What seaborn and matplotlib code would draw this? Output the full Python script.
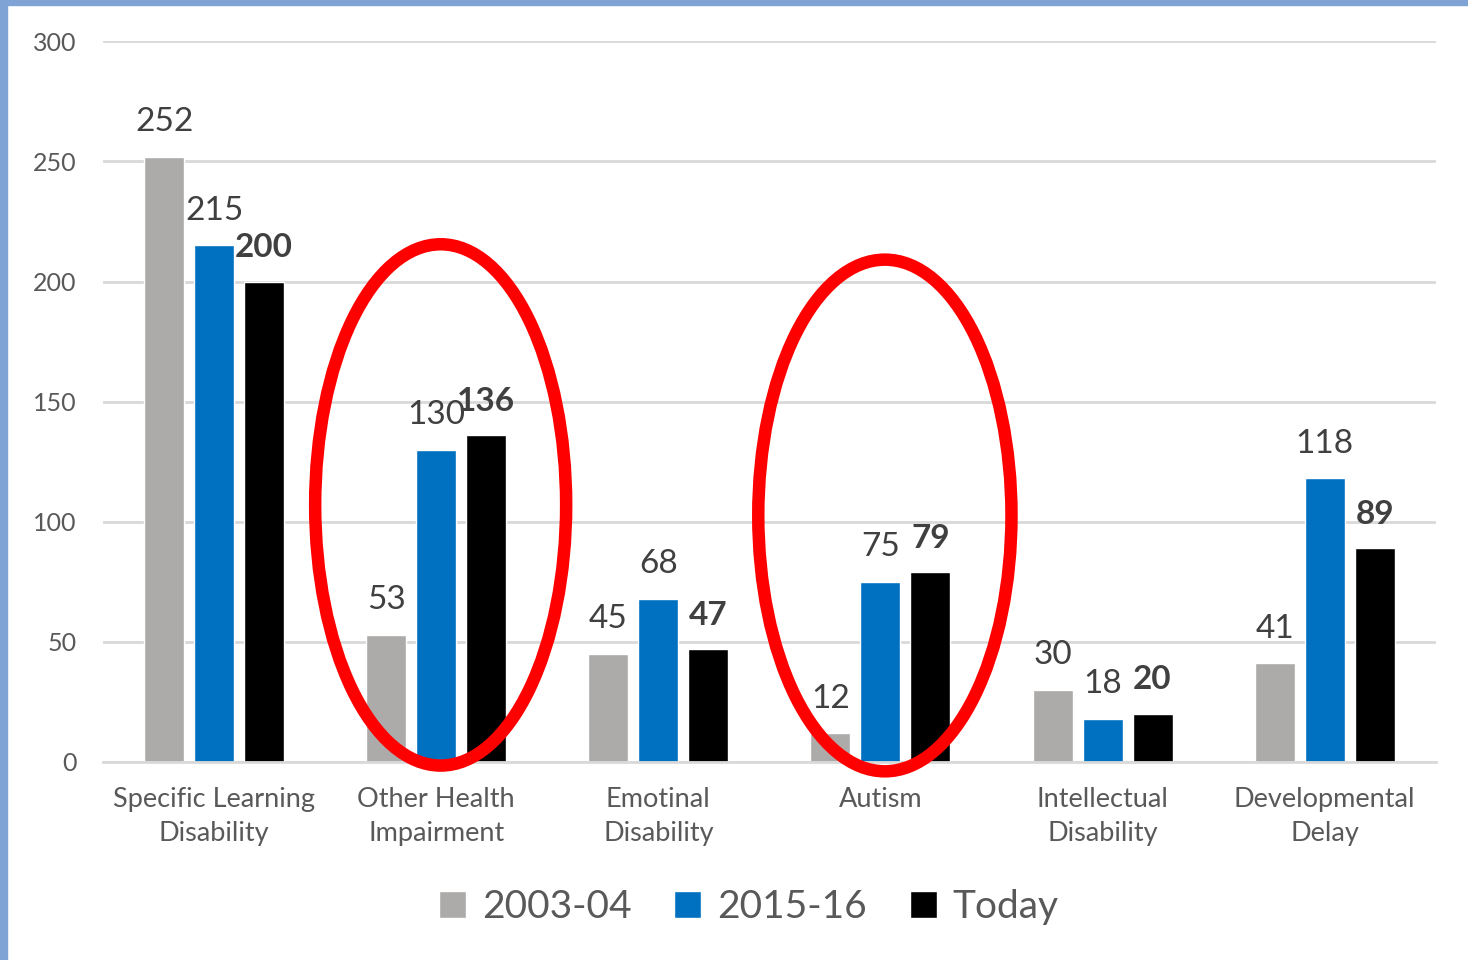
import pandas as pd
import matplotlib
matplotlib.use("Agg")
import matplotlib.pyplot as plt
from matplotlib.patches import Ellipse, Rectangle
import seaborn as sns

categories = ["Specific Learning\nDisability", "Other Health\nImpairment", "Emotinal\nDisability",
              "Autism", "Intellectual\nDisability", "Developmental\nDelay"]
years = ["2003-04", "2015-16", "Today"]
v_2003 = [252, 53, 45, 12, 30, 41]
v_2015 = [215, 130, 68, 75, 18, 118]
v_today = [200, 136, 47, 79, 20, 89]
colors = ["#ADAAAA", "#0070C0", "#000000"]


def main():
    df = pd.DataFrame({
        "cat": categories * 3,
        "year": [years[0]] * 6 + [years[1]] * 6 + [years[2]] * 6,
        "value": v_2003 + v_2015 + v_today,
    })

    sns.set_style("white")
    plt.rcParams["font.family"] = ["Lato", "DejaVu Sans"]

    fig = plt.figure(figsize=(14.68, 9.6), dpi=100)
    ax = fig.add_axes([0.0702, 0.2063, 0.9078, 0.7507])

    sns.barplot(data=df, x="cat", y="value", hue="year", palette=colors,
                width=0.675, gap=0.2, ax=ax, legend=True, saturation=1)

    ax.set_ylim(0, 300)
    ax.set_xlim(-0.5, 5.5)
    ax.set_yticks([0, 50, 100, 150, 200, 250, 300])
    ax.yaxis.grid(True, color="#D9D9D9", linewidth=2)
    ax.set_axisbelow(True)
    for s in ["top", "right", "left"]:
        ax.spines[s].set_visible(False)
    ax.spines["bottom"].set_color("#D9D9D9")
    ax.spines["bottom"].set_linewidth(2)
    ax.tick_params(axis="y", length=0, pad=19, labelsize=18, labelcolor="#595959")
    ax.tick_params(axis="x", length=0, pad=18, labelsize=19.5, labelcolor="#595959")
    for t in ax.get_xticklabels():
        t.set_linespacing(1.45)
    ax.set_xlabel("")
    ax.set_ylabel("")

    for i, cont in enumerate(ax.containers):
        ax.bar_label(cont, padding=14, fontsize=24, color="#404040",
                     fontweight="bold" if i == 2 else "normal")

    # red circles around the highlighted groups
    for cx, cy, w, h in [(1.02, 107, 1.13, 217), (3.02, 102.6, 1.14, 213)]:
        ax.add_patch(Ellipse((cx, cy), w, h, fill=False, edgecolor="#FF0000",
                             linewidth=9, clip_on=False, zorder=5))

    handles, labels = ax.get_legend_handles_labels()
    ax.get_legend().remove()
    fig.legend(handles, labels, loc="center", bbox_to_anchor=(0.51, 0.055), ncol=3,
               frameon=False, fontsize=28, labelcolor="#595959", handlelength=0.7,
               handleheight=0.7, handletextpad=0.4, columnspacing=1.1)

    # blue frame strips on the left and top
    fig.patches.append(Rectangle((0, 0), 7 / 1468, 1, transform=fig.transFigure,
                                 color="#7FA3D5", zorder=10))
    fig.patches.append(Rectangle((0, 1 - 5 / 960), 1, 5 / 960, transform=fig.transFigure,
                                 color="#7FA3D5", zorder=10))

    fig.savefig("out.png", dpi=100)


if __name__ == "__main__":
    main()
